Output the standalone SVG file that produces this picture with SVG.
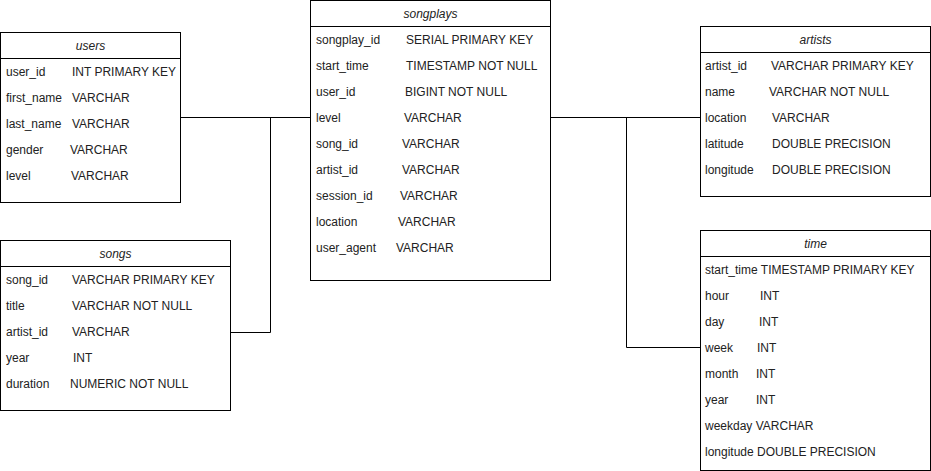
<svg xmlns="http://www.w3.org/2000/svg" width="931" height="471" viewBox="0 0 931 471">
<style>
.box{fill:#fff;stroke:#000;stroke-width:1}
.sep{stroke:#000;stroke-width:1}
.hdr{font-family:"Liberation Sans",Arial,sans-serif;font-size:12px;font-style:italic;fill:#222;text-anchor:middle}
.t{font-family:"Liberation Sans",Arial,sans-serif;font-size:12px;fill:#222}
.edge{fill:none;stroke:#000;stroke-width:1}
</style>
<rect width="931" height="471" fill="#fff"/>
<g id="connectors">
<path class="edge" d="M180.5 117.5 H310.5"/>
<path class="edge" d="M230.5 332.5 H270.5 V117.5 H310.5"/>
<path class="edge" d="M550.5 117.5 H700.5"/>
<path class="edge" d="M700.5 347.5 H626.5 V117.5 H550.5"/>
</g>
<g id="users">
<rect class="box" x="0.5" y="32.5" width="180" height="170"/>
<line class="sep" x1="0.5" y1="58.5" x2="180.5" y2="58.5"/>
<text class="hdr" x="90.5" y="50">users</text>
<text class="t" x="6" y="76">user_id</text><text class="t" x="72" y="76">INT PRIMARY KEY</text>
<text class="t" x="6" y="102">first_name</text><text class="t" x="72" y="102">VARCHAR</text>
<text class="t" x="6" y="128">last_name</text><text class="t" x="72" y="128">VARCHAR</text>
<text class="t" x="6" y="154">gender</text><text class="t" x="70" y="154">VARCHAR</text>
<text class="t" x="6" y="180">level</text><text class="t" x="71" y="180">VARCHAR</text>
</g>
<g id="songs">
<rect class="box" x="0.5" y="240.5" width="230" height="170"/>
<line class="sep" x1="0.5" y1="266.5" x2="230.5" y2="266.5"/>
<text class="hdr" x="115.5" y="258">songs</text>
<text class="t" x="6" y="284">song_id</text><text class="t" x="72" y="284">VARCHAR PRIMARY KEY</text>
<text class="t" x="6" y="310">title</text><text class="t" x="72" y="310">VARCHAR NOT NULL</text>
<text class="t" x="6" y="336">artist_id</text><text class="t" x="72" y="336">VARCHAR</text>
<text class="t" x="6" y="362">year</text><text class="t" x="73" y="362">INT</text>
<text class="t" x="6" y="388">duration</text><text class="t" x="70" y="388">NUMERIC NOT NULL</text>
</g>
<g id="songplays">
<rect class="box" x="310.5" y="0.5" width="240" height="280"/>
<line class="sep" x1="310.5" y1="26.5" x2="550.5" y2="26.5"/>
<text class="hdr" x="430.5" y="18">songplays</text>
<text class="t" x="316" y="44">songplay_id</text><text class="t" x="406" y="44">SERIAL PRIMARY KEY</text>
<text class="t" x="316" y="70">start_time</text><text class="t" x="406" y="70">TIMESTAMP NOT NULL</text>
<text class="t" x="316" y="96">user_id</text><text class="t" x="405" y="96">BIGINT NOT NULL</text>
<text class="t" x="316" y="122">level</text><text class="t" x="404" y="122">VARCHAR</text>
<text class="t" x="316" y="148">song_id</text><text class="t" x="402" y="148">VARCHAR</text>
<text class="t" x="316" y="174">artist_id</text><text class="t" x="402" y="174">VARCHAR</text>
<text class="t" x="316" y="200">session_id</text><text class="t" x="400" y="200">VARCHAR</text>
<text class="t" x="316" y="226">location</text><text class="t" x="398" y="226">VARCHAR</text>
<text class="t" x="316" y="252">user_agent</text><text class="t" x="396" y="252">VARCHAR</text>
</g>
<g id="artists">
<rect class="box" x="700.5" y="26.5" width="230" height="170"/>
<line class="sep" x1="700.5" y1="52.5" x2="930.5" y2="52.5"/>
<text class="hdr" x="815.5" y="44">artists</text>
<text class="t" x="705" y="70">artist_id</text><text class="t" x="771" y="70">VARCHAR PRIMARY KEY</text>
<text class="t" x="705" y="96">name</text><text class="t" x="769" y="96">VARCHAR NOT NULL</text>
<text class="t" x="705" y="122">location</text><text class="t" x="772" y="122">VARCHAR</text>
<text class="t" x="705" y="148">latitude</text><text class="t" x="772" y="148">DOUBLE PRECISION</text>
<text class="t" x="705" y="174">longitude</text><text class="t" x="772" y="174">DOUBLE PRECISION</text>
</g>
<g id="time">
<rect class="box" x="700.5" y="230.5" width="230" height="240"/>
<line class="sep" x1="700.5" y1="256.5" x2="930.5" y2="256.5"/>
<text class="hdr" x="815.5" y="248">time</text>
<text class="t" x="705" y="274">start_time TIMESTAMP PRIMARY KEY</text>
<text class="t" x="705" y="300">hour</text><text class="t" x="760" y="300">INT</text>
<text class="t" x="705" y="326">day</text><text class="t" x="759" y="326">INT</text>
<text class="t" x="705" y="352">week</text><text class="t" x="757" y="352">INT</text>
<text class="t" x="705" y="378">month</text><text class="t" x="756" y="378">INT</text>
<text class="t" x="705" y="404">year</text><text class="t" x="756" y="404">INT</text>
<text class="t" x="705" y="430">weekday VARCHAR</text>
<text class="t" x="705" y="456">longitude DOUBLE PRECISION</text>
</g>
</svg>
